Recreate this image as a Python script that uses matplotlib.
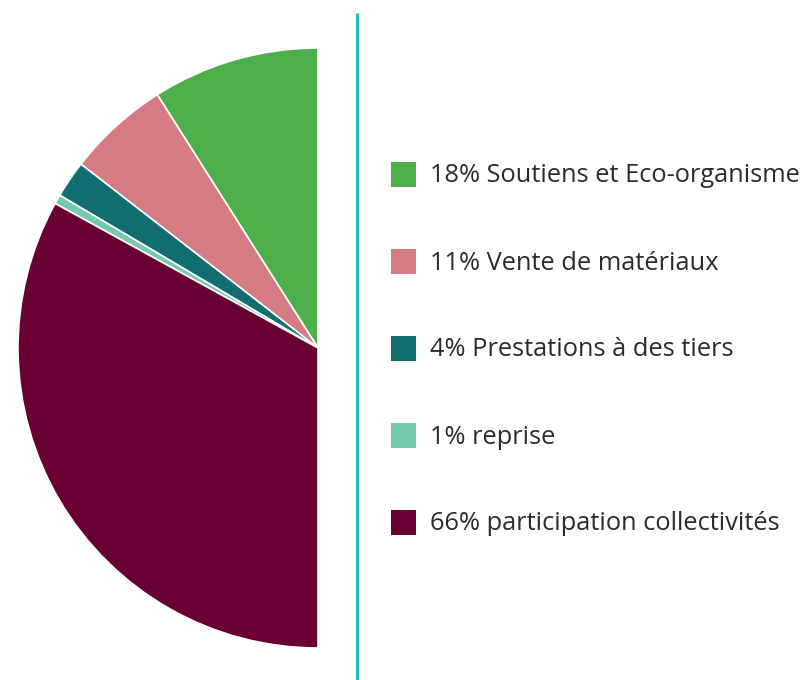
import matplotlib.pyplot as plt
from matplotlib.patches import Rectangle

# ---------- Data ----------
labels = [
    "Soutiens et Eco-organisme",
    "Vente de matériaux",
    "Prestations à des tiers",
    "reprise",
    "participation collectivités",
]
shares = [18, 11, 4, 1, 66]  # percent
colors = ["#4caf4a", "#d57b84", "#106e70", "#74c9ae", "#690033"]

# ---------- Figure (pixel coordinates, y up) ----------
W, H = 807, 680
fig = plt.figure(figsize=(W / 100, H / 100), dpi=100)
ax = fig.add_axes([0, 0, 1, 1])

# Half pie: 100 % spread over 180 degrees, left side
fractions = [s / 200 for s in shares]
ax.pie(
    fractions,
    colors=colors,
    startangle=90,
    counterclock=True,
    normalize=False,
    radius=300,
    center=(318, H - 348),
    wedgeprops=dict(edgecolor="white", linewidth=1.2),
    frame=True,
)
ax.set_xlim(0, W)
ax.set_ylim(0, H)
ax.set_aspect("equal")
ax.axis("off")

# Separator line
ax.plot([357, 357], [0, H - 13], color="#1fbfb0", linewidth=2.2, solid_capstyle="butt")

# ---------- Legend ----------
y0, step = 174, 87
for i, (lab, s, c) in enumerate(zip(labels, shares, colors)):
    yc = H - (y0 + i * step)
    ax.add_patch(Rectangle((391, yc - 12.5), 25, 25, facecolor=c, edgecolor="none"))
    ax.text(430, yc - 8.5, f"{s}% {lab}", fontsize=18.3, family="Open Sans",
            color="#2b2b2b", va="baseline", ha="left")

fig.savefig("out.png", dpi=100)
